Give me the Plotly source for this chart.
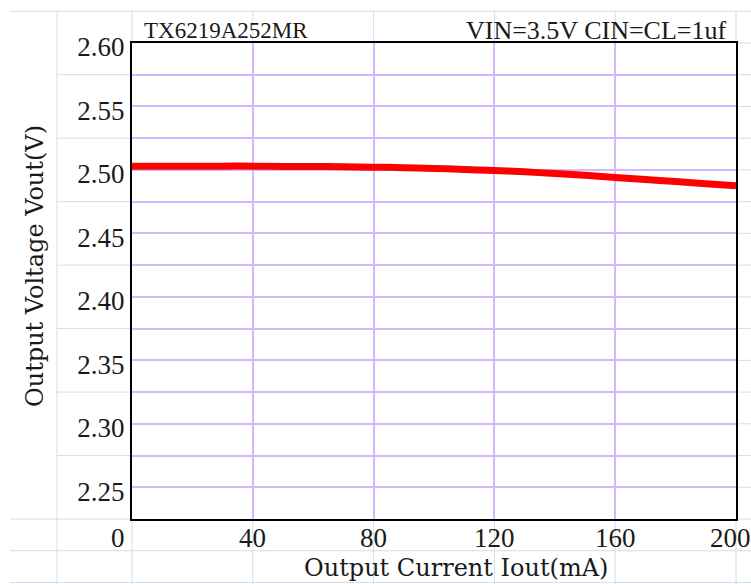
import plotly.graph_objects as go

# ---- data ----
current_ma = [0, 10, 20, 30, 40, 50, 60, 70, 80, 90, 100, 110, 120, 130, 140, 150, 160, 170, 180, 190, 200]
vout_v = [2.503, 2.503, 2.503, 2.503, 2.503, 2.5028, 2.5027, 2.5025, 2.5022, 2.5018, 2.5012,
          2.5004, 2.4995, 2.4985, 2.4972, 2.4958, 2.4941, 2.4925, 2.4908, 2.4891, 2.4875]

x_tick_vals = [0, 40, 80, 120, 160, 200]
x_tick_text = ["0", "40", "80", "120", "160", "200"]
y_grid_vals = [2.225, 2.25, 2.275, 2.30, 2.325, 2.35, 2.375, 2.40, 2.425, 2.45, 2.475, 2.50, 2.525, 2.55, 2.575, 2.60]
y_tick_text = ["", "2.25", "", "2.30", "", "2.35", "", "2.40", "", "2.45", "", "2.50", "", "2.55", "", "2.60"]

title_left = "TX6219A252MR"
title_right = "VIN=3.5V CIN=CL=1uf"
x_title = "Output Current Iout(mA)"
y_title = "Output Voltage Vout(V)"

X_RANGE = [0, 200]
Y_RANGE = [2.225, 2.60]

W, H = 751, 584
ML, MR, MT, MB = 132, 15, 43, 65
PW, PH = W - ML - MR, H - MT - MB

def px_x(px):
    return (px - ML) / PW

def px_y(py):
    return (H - MB - py) / PH

def dx(v):
    return (v - X_RANGE[0]) / (X_RANGE[1] - X_RANGE[0])

def dy(v):
    return (v - Y_RANGE[0]) / (Y_RANGE[1] - Y_RANGE[0])

GRID_PURPLE = "#D7B8FF"
SHEET = "#D6DCE9"
TXT = "#1a1a1a"
NUM_FONT = dict(family="Liberation Serif", size=27, color=TXT)

fig = go.Figure()
fig.add_trace(go.Scatter(
    x=current_ma, y=vout_v, mode="lines",
    line=dict(color="#FF0000", width=7, shape="spline"),
    hoverinfo="skip", showlegend=False,
))

# ---- spreadsheet background grid (decorative) ----
shapes = []
def hline(y0p, x0p, x1p):
    shapes.append(dict(type="line", xref="paper", yref="paper", x0=x0p, x1=x1p, y0=y0p, y1=y0p,
                       line=dict(color=SHEET, width=1), layer="below"))
def vline(x0p, y0p, y1p):
    shapes.append(dict(type="line", xref="paper", yref="paper", x0=x0p, x1=x0p, y0=y0p, y1=y1p,
                       line=dict(color=SHEET, width=1), layer="below"))

row_step = 0.025
top_row = dy(Y_RANGE[1] + row_step)
bot_rows = [dy(Y_RANGE[0] - row_step), dy(Y_RANGE[0] - 2 * row_step)]
left_edge = px_x(10)
col_b = px_x(57)
right_edge = px_x(W)

hline(top_row, left_edge, right_edge)
hline(0, left_edge, 0)
hline(0, 1, right_edge)
for b in bot_rows:
    hline(b, left_edge, right_edge)
for v in [2.575, 2.525, 2.475, 2.425, 2.375, 2.325, 2.275]:
    hline(dy(v), col_b, 0)
for v in y_grid_vals[1:]:
    hline(dy(v), 1, right_edge)
vline(col_b, bot_rows[1] - 0.01, top_row)
vline(0, bot_rows[1] - 0.01, 0)
vline(0, 1, top_row)
for v in x_tick_vals[1:]:
    vline(dx(v), bot_rows[1] - 0.01, 0)
    vline(dx(v), 1, top_row)

annotations = [
    dict(text=title_left, xref="paper", yref="paper", x=px_x(142), y=px_y(30),
         xanchor="left", yanchor="middle", showarrow=False,
         font=dict(family="Liberation Serif", size=23, color=TXT)),
    dict(text=title_right, xref="paper", yref="paper", x=px_x(729), y=px_y(30),
         xanchor="right", yanchor="middle", showarrow=False,
         font=dict(family="Liberation Serif", size=26, color=TXT)),
    dict(text=x_title, xref="paper", yref="paper", x=px_x(456), y=px_y(568),
         xanchor="center", yanchor="middle", showarrow=False,
         font=dict(family="DejaVu Serif", size=24, color=TXT)),
    dict(text=y_title, xref="paper", yref="paper", x=px_x(35), y=px_y(266),
         xanchor="center", yanchor="middle", showarrow=False, textangle=-90,
         font=dict(family="DejaVu Serif", size=24, color=TXT)),
]
# x tick labels placed on the x scale
for i, (v, t) in enumerate(zip(x_tick_vals, x_tick_text)):
    first = i == 0
    last = i == len(x_tick_vals) - 1
    annotations.append(dict(
        text=t, xref="x", yref="paper", x=v, y=px_y(538),
        xanchor="right" if first else "center", xshift=-5 if first else (-6 if last else 0),
        yanchor="middle", showarrow=False, font=NUM_FONT))

fig.update_layout(
    width=W, height=H,
    margin=dict(l=ML, r=MR, t=MT, b=MB, pad=0),
    paper_bgcolor="white", plot_bgcolor="white",
    showlegend=False,
    shapes=shapes,
    xaxis=dict(
        range=X_RANGE, tickvals=x_tick_vals, showticklabels=False,
        showgrid=True, gridcolor=GRID_PURPLE, gridwidth=1.5,
        showline=True, linecolor="black", linewidth=2, mirror=True,
        ticks="", zeroline=False,
    ),
    yaxis=dict(
        range=Y_RANGE, tickvals=y_grid_vals, ticktext=y_tick_text,
        showgrid=True, gridcolor=GRID_PURPLE, gridwidth=1.5,
        showline=True, linecolor="black", linewidth=2, mirror=True,
        ticks="", zeroline=False, ticklabelstandoff=0, ticklabelshift=4,
        tickfont=NUM_FONT,
    ),
    annotations=annotations,
)

fig.write_html("out.html", config={"displayModeBar": False},
               post_script="document.body.style.margin='0';document.body.style.overflow='hidden';")
